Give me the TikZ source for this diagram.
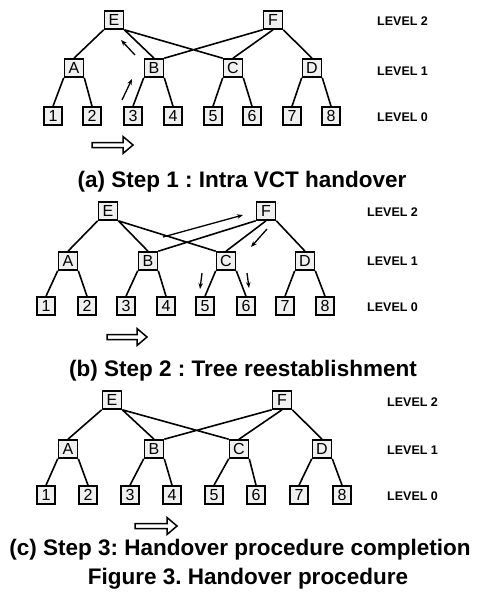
\documentclass[tikz,border=0pt]{standalone}
\usepackage{fontspec}
\setmainfont{Liberation Sans}
\usetikzlibrary{arrows.meta}
\frenchspacing
\begin{document}
\begin{tikzpicture}[x=1pt,y=-1pt,
  box/.style={draw,line width=1.6pt,fill=gray!12,minimum width=19pt,minimum height=18pt,inner sep=0pt,font=\fontsize{16}{16}\selectfont},
  leaf/.style={box,minimum width=18pt},
  edge/.style={line width=1.6pt},
  lvl/.style={anchor=base west,font=\bfseries\fontsize{12.5}{12.5}\selectfont,inner sep=0pt},
  captxt/.style={anchor=base,font=\bfseries\fontsize{22.5}{22.5}\selectfont,inner sep=0pt},
  smallarr/.style={line width=1.3pt,-{Stealth[length=6pt,width=4.5pt]}},
  hollow/.style={line width=1.5pt,line join=miter}]
\useasboundingbox (0,0) rectangle (478,602);

% ---------- panel (a)
\node[box] (aE) at (114,20) {E};
\node[box] (aF) at (273,20) {F};
\node[box] (aA) at (74,68) {A};
\node[box] (aB) at (154,68) {B};
\node[box] (aC) at (233,68) {C};
\node[box] (aD) at (312,68) {D};
\foreach \n/\x in {1/53,2/92,3/133,4/173,5/213,6/252,7/292,8/331}
  \node[leaf] (a\n) at (\x,116) {\n};
\draw[edge] (aE.south west)--(aA.north) (aE.south east)--(aB.north) (aE.south east)--(aC.north west)
  (aF.south west)--(aB.north east) (aF.south)--(aC.north) (aF.south east)--(aD.north);
\foreach \p/\l/\r in {A/1/2,B/3/4,C/5/6,D/7/8}
  \draw[edge] (a\p.south west)--(a\l.north) (a\p.south east)--(a\r.north);
\coordinate (am1s) at (122,100); \coordinate (am1e) at (132,79);
\coordinate (am2s) at (135,55);  \coordinate (am2e) at (121,40);
\draw[smallarr] (am1s)--(am1e);
\draw[smallarr] (am2s)--(am2e);
\draw[hollow,shift={(92,145)}] (0,-2.5)--(31,-2.5)--(31,-8.5)--(41,0)--(31,8.5)--(31,2.5)--(0,2.5)--cycle;
\node[lvl] (aL2) at (377,26) {LEVEL 2};
\node[lvl] (aL1) at (377,75) {LEVEL 1};
\node[lvl] (aL0) at (377,121) {LEVEL 0};
\node[captxt] (acap) at (242,187) {(a) Step 1 : Intra VCT handover};

% ---------- panel (b)
\node[box] (bE) at (108,211) {E};
\node[box] (bF) at (266,211) {F};
\node[box] (bA) at (68,261) {A};
\node[box] (bB) at (148,261) {B};
\node[box] (bC) at (226,261) {C};
\node[box] (bD) at (305,261) {D};
\foreach \n/\x in {1/46,2/87,3/126,4/166,5/205,6/246,7/285,8/325}
  \node[leaf] (b\n) at (\x,306) {\n};
\draw[edge] (bE.south west)--(bA.north) (bE.south east)--(bB.north) (bE.south east)--(bC.north west)
  (bF.south west)--(bB.north east) (bF.south)--(bC.north) (bF.south east)--(bD.north);
\foreach \p/\l/\r in {A/1/2,B/3/4,C/5/6,D/7/8}
  \draw[edge] (b\p.south west)--(b\l.north) (b\p.south east)--(b\r.north);
\coordinate (bm1s) at (163,237); \coordinate (bm1e) at (243,215);
\coordinate (bm2s) at (267,229); \coordinate (bm2e) at (251,247);
\coordinate (bm3s) at (202,273); \coordinate (bm3e) at (200,289);
\coordinate (bm4s) at (247,273); \coordinate (bm4e) at (249,288);
\draw[smallarr] (bm1s)--(bm1e);
\draw[smallarr] (bm2s)--(bm2e);
\draw[smallarr] (bm3s)--(bm3e);
\draw[smallarr] (bm4s)--(bm4e);
\draw[hollow,shift={(107,337)}] (0,-2.5)--(30,-2.5)--(30,-8.5)--(40,0)--(30,8.5)--(30,2.5)--(0,2.5)--cycle;
\node[lvl] (bL2) at (367,216) {LEVEL 2};
\node[lvl] (bL1) at (367,265) {LEVEL 1};
\node[lvl] (bL0) at (367,311) {LEVEL 0};
\node[captxt] (bcap) at (243,376) {(b) Step 2 : Tree reestablishment};

% ---------- panel (c)
\node[box] (cE) at (112,400) {E};
\node[box] (cF) at (282,400) {F};
\node[box] (cA) at (68,449) {A};
\node[box] (cB) at (154,449) {B};
\node[box] (cC) at (239,449) {C};
\node[box] (cD) at (322,449) {D};
\foreach \n/\x in {1/46,2/88,3/130,4/172,5/214,6/256,7/299,8/342}
  \node[leaf] (c\n) at (\x,495) {\n};
\draw[edge] (cE.south west)--(cA.north) (cE.south east)--(cB.north) (cE.south east)--(cC.north west)
  (cF.south west)--(cB.north east) (cF.south)--(cC.north) (cF.south east)--(cD.north);
\foreach \p/\l/\r in {A/1/2,B/3/4,C/5/6,D/7/8}
  \draw[edge] (c\p.south west)--(c\l.north) (c\p.south east)--(c\r.north);
\draw[hollow,shift={(135,526)}] (0,-2.5)--(32,-2.5)--(32,-8.5)--(42,0)--(32,8.5)--(32,2.5)--(0,2.5)--cycle;
\node[lvl] (cL2) at (387,406) {LEVEL 2};
\node[lvl] (cL1) at (387,454) {LEVEL 1};
\node[lvl] (cL0) at (387,500) {LEVEL 0};
\node[captxt] (ccap) at (240,555) {(c) Step 3: Handover procedure completion};
\node[captxt] (fig) at (248,584) {Figure 3. Handover procedure};
\end{tikzpicture}
\end{document}
